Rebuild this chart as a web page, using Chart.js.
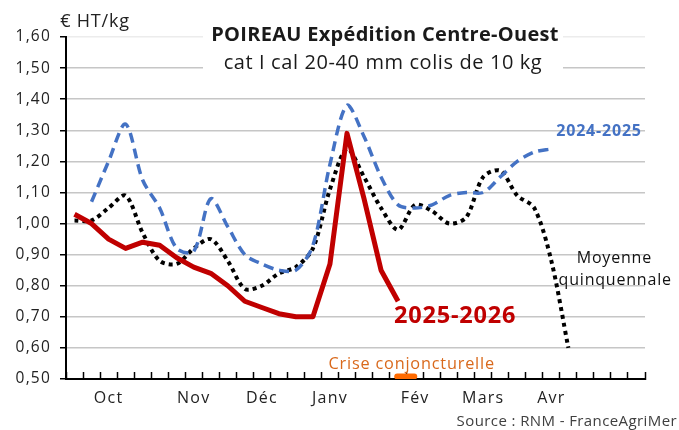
<!DOCTYPE html>
<html>
<head>
<meta charset="utf-8">
<title>Poireau Centre-Ouest</title>
<script src="https://cdn.jsdelivr.net/npm/chart.js@4.4.1/dist/chart.umd.min.js"></script>
<style>
  body { margin: 0; background: #fff; }
</style>
</head>
<body>
<canvas id="myChart" width="679" height="430"></canvas>
<script>

// one category per week, from mid-September to the end of April
var semaines = ['', '', 'Oct', '', '', '', '', 'Nov', '', '', '', 'Déc', '', '', '', 'Janv', '',
                '', '', '', 'Fév', '', '', '', 'Mars', '', '', '', 'Avr', '', '', '', '', ''];

var prix_2025_2026 = [1.03, 1.00, 0.95, 0.92, 0.94, 0.93, 0.89, 0.86, 0.84, 0.80, 0.75, 0.73, 0.71, 0.70,
                      0.70, 0.87, 1.29, 1.08, 0.85, 0.75,
                      null, null, null, null, null, null, null, null, null, null, null, null, null, null];

var prix_2024_2025 = [null, 1.07, 1.20, 1.32, 1.14, 1.05, 0.92, 0.91, 1.08, 0.99, 0.90, 0.87, 0.85, 0.85,
                      0.93, 1.19, 1.38, 1.28, 1.15, 1.06, 1.05, 1.06, 1.09, 1.10, 1.10, 1.15, 1.20, 1.23,
                      1.24, null, null, null, null, null];

var moyenne_5ans = [1.01, 1.01, 1.05, 1.09, 0.97, 0.88, 0.87, 0.92, 0.95, 0.88, 0.79, 0.80, 0.84, 0.86,
                    0.92, 1.11, 1.24, 1.15, 1.05, 0.98, 1.06, 1.04, 1.00, 1.02, 1.15, 1.17, 1.09, 1.05,
                    0.88, 0.60, null, null, null, null];

// weeks flagged as "crise conjoncturelle" (marker on the x axis)
var crise_semaines = [18.95, 19.95];
var crise_niveau = 0.508;

var y_min = 0.50;
var y_max = 1.60;
var y_pas = 0.10;

var font_family = "'Open Sans', 'DejaVu Sans', sans-serif";

function spacing(chart)
{
    chart.ctx.letterSpacing = '1.2px';
}

const letterSpacing = {
    id: 'letterSpacing',
    beforeLayout: spacing,
    beforeDraw: spacing
};

function drawText(ctx, text, x, y, font, color, align)
{
    ctx.font = font;
    ctx.fillStyle = color;
    ctx.textAlign = align || 'center';
    ctx.textBaseline = 'middle';
    ctx.fillText(text, x, y);
}

const annotations = {
    id: 'annotations',
    afterDraw(chart) {
        const ctx = chart.ctx;
        const xs = chart.scales.x;
        const ys = chart.scales.y;
        ctx.save();

        // white box behind the title
        ctx.fillStyle = '#fff';
        ctx.fillRect(203, 18, 360, 58);

        ctx.letterSpacing = '0.3px';
        drawText(ctx, 'POIREAU Expédition Centre-Ouest', 385, 35, "bold 20px " + font_family, '#1a1a1a');
        ctx.letterSpacing = '0.6px';
        drawText(ctx, 'cat I cal 20-40 mm colis de 10 kg', 383, 63, "20px " + font_family, '#1a1a1a');

        ctx.letterSpacing = '0.8px';
        drawText(ctx, '€ HT/kg', 95, 22, "18px " + font_family, '#222');

        drawText(ctx, '2024-2025', xs.getPixelForValue(30.8), ys.getPixelForValue(1.295),
                 "bold 16px " + font_family, '#4472c4');
        drawText(ctx, '2025-2026', xs.getPixelForValue(22.35), ys.getPixelForValue(0.703),
                 "bold 23.5px " + font_family, '#c00000');
        drawText(ctx, 'Moyenne', xs.getPixelForValue(31.7), ys.getPixelForValue(0.887),
                 "16px " + font_family, '#111');
        drawText(ctx, 'quinquennale', xs.getPixelForValue(31.75), ys.getPixelForValue(0.816),
                 "16px " + font_family, '#111');
        drawText(ctx, 'Crise conjoncturelle', xs.getPixelForValue(19.8), ys.getPixelForValue(0.548),
                 "16.3px " + font_family, '#d9691c');

        ctx.letterSpacing = '0.4px';
        drawText(ctx, 'Source : RNM - FranceAgriMer', 677, 422, "15px " + font_family, '#404040', 'right');
        ctx.restore();
    }
};

const data = {
    labels: semaines,
    datasets: [
        {
            label: '2025-2026',
            data: prix_2025_2026,
            borderColor: '#c00000',
            borderWidth: 5,
            tension: 0,
            borderJoinStyle: 'round'
        },
        {
            label: '2024-2025',
            data: prix_2024_2025,
            borderColor: '#4472c4',
            borderWidth: 3.5,
            borderDash: [10, 6],
            tension: 0.3
        },
        {
            label: 'Moyenne quinquennale',
            data: moyenne_5ans,
            borderColor: '#000',
            borderWidth: 4,
            borderDash: [4, 4],
            tension: 0.3
        },
        {
            label: 'Crise conjoncturelle',
            data: crise_semaines.map(s => ({x: s, y: crise_niveau})),
            xAxisID: 'xc',
            borderColor: '#ff6a00',
            borderWidth: 6,
            borderCapStyle: 'round'
        }
    ]
};

const config = {
    type: 'line',
    data: data,
    plugins: [letterSpacing, annotations],
    options: {
        responsive: false,
        animation: false,
        layout: { padding: { top: 37, right: 34, left: 0, bottom: 0 } },
        elements: { point: { radius: 0 } },
        spanGaps: false,
        plugins: {
            legend: { display: false },
            tooltip: { enabled: false }
        },
        scales: {
            x: {
                type: 'category',
                offset: true,
                grid: {
                    offset: true,
                    drawOnChartArea: false,
                    tickLength: -7,
                    tickColor: '#000',
                    tickWidth: 1.5
                },
                border: { color: '#000', width: 2 },
                ticks: {
                    autoSkip: false,
                    maxRotation: 0,
                    padding: 17,
                    color: '#222',
                    font: { family: font_family, size: 16 }
                },
                afterFit(scale) { scale.height = 51; }
            },
            xc: {
                type: 'linear',
                display: false,
                min: -0.5,
                max: semaines.length - 0.5
            },
            y: {
                min: y_min,
                max: y_max,
                ticks: {
                    stepSize: y_pas,
                    padding: 9,
                    color: '#222',
                    font: { family: font_family, size: 15.5 },
                    callback: v => v.toFixed(2).replace('.', ',')
                },
                grid: {
                    color: ctx => (ctx.tick && Math.abs(ctx.tick.value - y_max) < 1e-6) ? '#ececec' : '#c6c6c6',
                    lineWidth: 1.5,
                    tickColor: '#000',
                    tickLength: 6
                },
                border: { color: '#000', width: 2 },
                afterFit(scale) { scale.width = 66; }
            }
        }
    }
};

var myChart = new Chart(document.getElementById('myChart').getContext('2d'), config);

</script>
</body>
</html>
